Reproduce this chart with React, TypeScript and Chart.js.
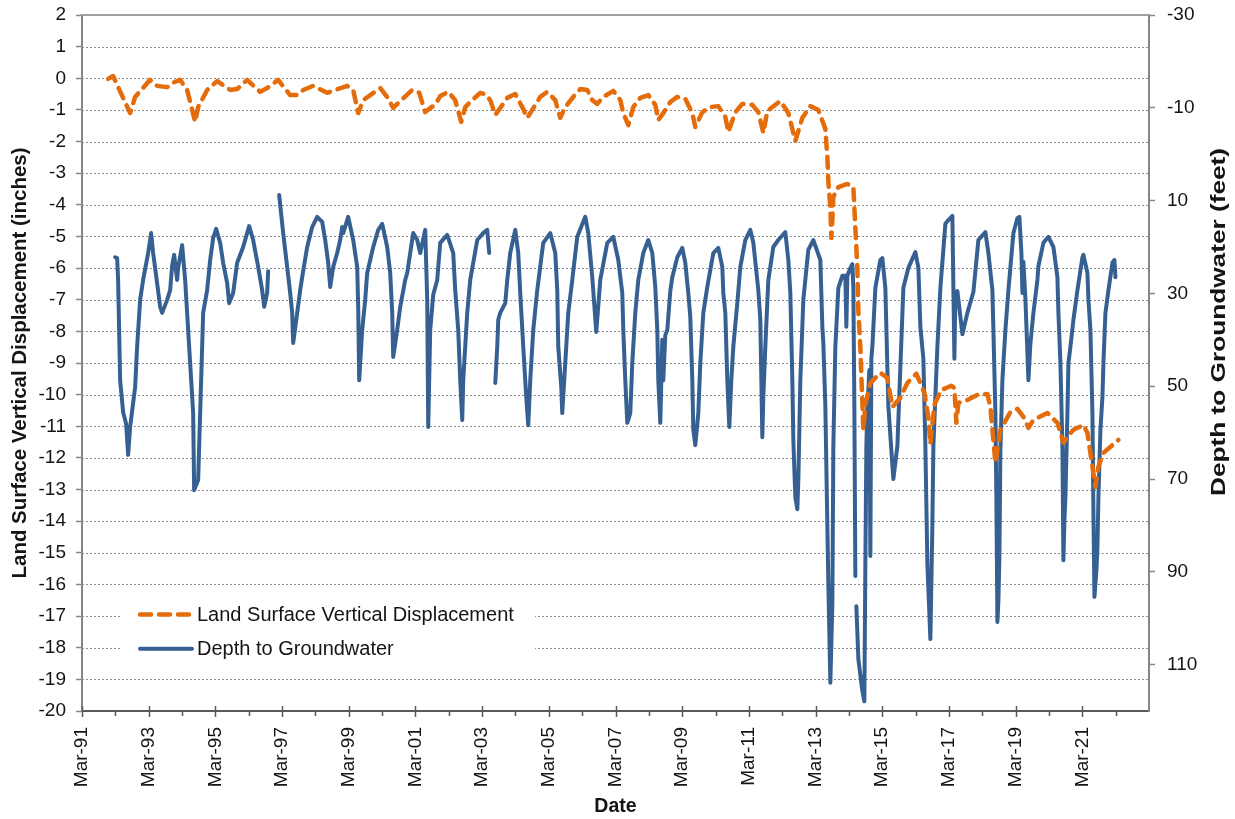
import { useEffect, useRef } from 'react';
import { Chart, registerables } from 'chart.js';

Chart.register(...registerables);

// Land surface vertical displacement (inches) : [decimal year, value]
const displacement: [number, number][] = [
  [1991.95, -0.02], [1992.10, 0.07], [1992.61, -1.10], [1992.76, -0.59], [1993.21, -0.05], [1993.42, -0.24],
  [1993.72, -0.28], [1993.87, -0.15], [1994.11, -0.05], [1994.32, -0.37], [1994.56, -1.38], [1994.65, -0.91],
  [1994.92, -0.37], [1995.22, -0.09], [1995.61, -0.37], [1995.82, -0.34], [1996.12, -0.05], [1996.51, -0.43],
  [1996.72, -0.31], [1997.05, -0.05], [1997.41, -0.53], [1997.62, -0.53], [1997.80, -0.37], [1998.10, -0.24],
  [1998.52, -0.46], [1999.12, -0.24], [1999.30, -0.37], [1999.45, -1.10], [1999.60, -0.69], [2000.11, -0.31],
  [2000.32, -0.59], [2000.50, -0.94], [2000.68, -0.75], [2001.07, -0.37], [2001.28, -0.46], [2001.46, -1.07],
  [2001.61, -0.94], [2001.76, -0.84], [2001.91, -0.56], [2002.15, -0.43], [2002.36, -0.69], [2002.54, -1.38],
  [2002.66, -0.91], [2002.87, -0.69], [2003.11, -0.46], [2003.26, -0.50], [2003.41, -0.69], [2003.56, -1.16],
  [2003.71, -0.94], [2003.92, -0.62], [2004.16, -0.50], [2004.37, -0.91], [2004.52, -1.25], [2004.67, -1.00],
  [2004.91, -0.59], [2005.12, -0.43], [2005.36, -0.69], [2005.51, -1.25], [2005.66, -0.91], [2005.90, -0.59],
  [2006.11, -0.34], [2006.32, -0.37], [2006.47, -0.69], [2006.62, -0.81], [2006.80, -0.59], [2007.10, -0.40],
  [2007.31, -0.69], [2007.40, -1.10], [2007.55, -1.48], [2007.70, -0.91], [2007.91, -0.62], [2008.15, -0.53],
  [2008.36, -0.84], [2008.45, -1.32], [2008.60, -1.10], [2008.81, -0.75], [2009.02, -0.59], [2009.26, -0.65],
  [2009.47, -1.10], [2009.56, -1.54], [2009.77, -1.07], [2010.01, -0.91], [2010.25, -0.88], [2010.46, -1.22],
  [2010.55, -1.70], [2010.76, -1.07], [2010.97, -0.81], [2011.27, -0.84], [2011.45, -1.07], [2011.60, -1.73],
  [2011.72, -1.03], [2012.11, -0.72], [2012.35, -1.10], [2012.56, -1.98], [2012.77, -1.25], [2013.01, -0.88],
  [2013.25, -1.00], [2013.46, -1.60], [2013.52, -2.49], [2013.55, -3.25], [2013.61, -4.10], [2013.64, -5.05],
  [2013.67, -4.48], [2013.70, -3.75], [2013.85, -3.44], [2014.12, -3.34], [2014.30, -3.44], [2014.36, -4.73],
  [2014.42, -6.00], [2014.45, -7.35], [2014.51, -8.49], [2014.54, -9.38], [2014.60, -11.11], [2014.66, -10.32],
  [2014.81, -9.63], [2015.11, -9.31], [2015.32, -9.47], [2015.47, -10.39], [2015.71, -10.10], [2015.92, -9.63],
  [2016.19, -9.34], [2016.43, -9.94], [2016.55, -10.73], [2016.61, -11.56], [2016.73, -10.32], [2016.94, -9.85],
  [2017.24, -9.72], [2017.33, -9.79], [2017.39, -10.89], [2017.45, -10.26], [2017.72, -10.17], [2018.02, -10.01],
  [2018.32, -9.98], [2018.41, -10.39], [2018.56, -12.16], [2018.71, -11.11], [2019.01, -10.55], [2019.22, -10.45],
  [2019.40, -10.70], [2019.55, -11.05], [2019.70, -10.80], [2020.12, -10.58], [2020.42, -10.89], [2020.60, -11.52],
  [2020.72, -11.34], [2020.90, -11.11], [2021.20, -10.96], [2021.32, -11.21], [2021.47, -12.28], [2021.56, -12.92],
  [2021.65, -12.28], [2021.80, -11.84], [2022.25, -11.43],
];

// Depth to groundwater (feet) : [decimal year, value]; null = gap in record
const groundwater: [number, number | null][] = [
  [1992.16, 22.2], [1992.22, 22.4], [1992.25, 27.1], [1992.31, 48.7], [1992.40, 55.6], [1992.49, 58.1],
  [1992.55, 64.8], [1992.61, 58.8], [1992.70, 53.6], [1992.76, 50.2], [1992.82, 41.5], [1992.91, 31.4],
  [1993.00, 27.1], [1993.15, 21.3], [1993.24, 17.0], [1993.30, 21.3], [1993.42, 27.8], [1993.51, 32.9],
  [1993.57, 34.2], [1993.72, 31.4], [1993.81, 29.3], [1993.87, 24.0], [1993.93, 21.7], [1994.02, 27.1],
  [1994.05, 24.5], [1994.17, 19.6], [1994.26, 27.1], [1994.41, 45.0], [1994.50, 55.8], [1994.53, 72.4],
  [1994.65, 70.2], [1994.71, 55.8], [1994.77, 41.5], [1994.80, 34.2], [1994.92, 29.3], [1995.01, 22.8],
  [1995.10, 18.1], [1995.19, 16.1], [1995.31, 19.1], [1995.40, 23.4], [1995.52, 27.8], [1995.58, 32.1],
  [1995.70, 29.9], [1995.82, 23.4], [1996.00, 20.0], [1996.18, 15.5], [1996.30, 18.5], [1996.45, 24.3],
  [1996.57, 29.3], [1996.63, 32.9], [1996.72, 29.9], [1996.75, 25.2], [1996.90, null],
  [1997.08, 8.8], [1997.20, 17.0], [1997.32, 24.3], [1997.41, 29.9], [1997.47, 34.2], [1997.50, 40.7],
  [1997.62, 34.2], [1997.71, 29.3], [1997.77, 26.5], [1997.92, 20.0], [1998.07, 15.7], [1998.22, 13.5],
  [1998.37, 14.6], [1998.46, 18.5], [1998.55, 23.4], [1998.61, 28.6], [1998.70, 24.3], [1998.82, 21.3],
  [1998.91, 18.5], [1998.97, 15.7], [1999.00, 17.0], [1999.15, 13.5], [1999.30, 18.5], [1999.42, 24.3],
  [1999.45, 32.9], [1999.48, 48.7], [1999.57, 37.9], [1999.66, 31.4], [1999.72, 25.6], [1999.90, 20.0],
  [2000.05, 16.3], [2000.17, 15.0], [2000.32, 20.0], [2000.41, 25.6], [2000.47, 34.2], [2000.50, 43.7],
  [2000.62, 37.9], [2000.71, 32.9], [2000.86, 27.1], [2000.92, 25.6], [2001.10, 17.0], [2001.22, 18.5],
  [2001.31, 21.3], [2001.46, 16.3], [2001.52, 31.4], [2001.55, 58.8], [2001.61, 37.9], [2001.70, 30.3],
  [2001.82, 27.1], [2001.91, 19.1], [2002.12, 17.4], [2002.30, 21.3], [2002.36, 29.3], [2002.45, 37.9],
  [2002.51, 48.7], [2002.57, 57.3], [2002.60, 48.7], [2002.72, 34.2], [2002.81, 27.1], [2003.02, 18.5],
  [2003.20, 17.0], [2003.32, 16.3], [2003.38, 21.3], [2003.45, null],
  [2003.56, 49.3], [2003.62, 41.5], [2003.65, 35.7], [2003.71, 34.2], [2003.86, 32.1], [2003.92, 27.1],
  [2004.01, 21.3], [2004.16, 16.3], [2004.25, 21.3], [2004.31, 29.9], [2004.40, 41.5], [2004.49, 52.3],
  [2004.55, 58.4], [2004.61, 48.7], [2004.70, 37.9], [2004.82, 29.3], [2005.00, 19.1], [2005.21, 17.0],
  [2005.36, 21.3], [2005.42, 29.3], [2005.45, 41.5], [2005.54, 50.2], [2005.57, 55.8], [2005.66, 45.0],
  [2005.75, 34.2], [2005.87, 27.1], [2006.02, 17.8], [2006.26, 13.5], [2006.35, 17.0], [2006.47, 26.5],
  [2006.59, 38.3], [2006.71, 27.1], [2006.92, 19.1], [2007.10, 17.8], [2007.25, 22.8], [2007.37, 29.9],
  [2007.40, 37.9], [2007.46, 48.7], [2007.52, 57.9], [2007.61, 55.8], [2007.67, 45.0], [2007.76, 34.2],
  [2007.85, 27.1], [2008.00, 21.3], [2008.15, 18.5], [2008.27, 21.3], [2008.36, 28.6], [2008.42, 37.9],
  [2008.45, 48.7], [2008.51, 57.9], [2008.57, 40.0], [2008.60, 48.7], [2008.66, 39.0], [2008.72, 37.9],
  [2008.81, 29.5], [2008.87, 26.5], [2009.02, 22.2], [2009.17, 20.2], [2009.26, 23.4], [2009.35, 29.9],
  [2009.41, 35.1], [2009.47, 48.7], [2009.50, 59.4], [2009.56, 62.7], [2009.65, 55.8], [2009.71, 45.0],
  [2009.80, 34.2], [2009.92, 28.6], [2010.10, 21.3], [2010.25, 20.2], [2010.37, 24.3], [2010.40, 29.9],
  [2010.46, 34.2], [2010.52, 48.7], [2010.58, 58.8], [2010.64, 48.7], [2010.70, 41.5], [2010.82, 32.1],
  [2010.91, 24.3], [2011.06, 18.5], [2011.21, 16.3], [2011.30, 19.1], [2011.45, 29.3], [2011.51, 35.7],
  [2011.57, 61.0], [2011.60, 52.3], [2011.66, 41.5], [2011.75, 27.1], [2011.90, 20.0], [2012.05, 18.5],
  [2012.26, 16.8], [2012.35, 22.8], [2012.41, 29.9], [2012.47, 48.7], [2012.50, 61.6], [2012.56, 73.9],
  [2012.62, 76.5], [2012.65, 70.2], [2012.71, 48.7], [2012.80, 31.4], [2012.95, 20.6], [2013.10, 18.5],
  [2013.31, 22.8], [2013.37, 37.2], [2013.40, 40.7], [2013.46, 54.3], [2013.52, 79.9], [2013.55, 92.6],
  [2013.61, 113.9], [2013.67, 96.9], [2013.70, 62.9], [2013.76, 41.5], [2013.85, 28.8], [2013.97, 26.2],
  [2014.06, 26.2], [2014.09, 37.2], [2014.12, 26.2], [2014.21, 24.5], [2014.27, 23.7], [2014.30, 28.8],
  [2014.33, 54.3], [2014.36, 90.9], [2014.37, null],
  [2014.39, 97.4], [2014.45, 108.8], [2014.57, 115.7], [2014.63, 117.9], [2014.66, 88.3], [2014.69, 62.9],
  [2014.72, 54.3], [2014.75, 50.8], [2014.78, 46.5], [2014.81, 86.6], [2014.84, 44.0], [2014.87, 41.5],
  [2014.96, 28.8], [2015.11, 22.8], [2015.17, 22.4], [2015.26, 28.8], [2015.35, 54.3], [2015.47, 67.0],
  [2015.50, 70.0], [2015.62, 62.9], [2015.71, 45.9], [2015.80, 28.8], [2015.95, 24.5], [2016.16, 21.1],
  [2016.25, 24.5], [2016.31, 37.2], [2016.40, 44.1], [2016.46, 62.9], [2016.52, 88.3], [2016.61, 104.5],
  [2016.67, 79.9], [2016.70, 62.9], [2016.82, 41.5], [2016.91, 28.8], [2017.06, 15.0], [2017.15, 14.2],
  [2017.27, 13.3], [2017.30, 28.8], [2017.33, 44.1], [2017.36, 30.6], [2017.42, 29.5], [2017.57, 38.8],
  [2017.72, 34.2], [2017.90, 29.7], [2018.05, 18.5], [2018.26, 16.8], [2018.35, 21.3], [2018.47, 29.3],
  [2018.50, 37.9], [2018.56, 55.8], [2018.59, 74.5], [2018.62, 100.8], [2018.65, 96.1], [2018.68, 86.8],
  [2018.71, 63.8], [2018.77, 48.7], [2018.86, 37.9], [2018.95, 29.3], [2019.10, 17.0], [2019.22, 13.8],
  [2019.28, 13.5], [2019.34, 21.3], [2019.37, 29.9], [2019.40, 23.2], [2019.46, 31.2], [2019.55, 48.7],
  [2019.61, 40.8], [2019.70, 34.2], [2019.82, 27.1], [2019.85, 24.1], [2020.00, 19.1], [2020.15, 17.8],
  [2020.30, 20.0], [2020.42, 26.5], [2020.45, 34.2], [2020.51, 45.0], [2020.57, 63.1], [2020.60, 87.5],
  [2020.63, 78.8], [2020.66, 73.9], [2020.72, 55.8], [2020.75, 45.0], [2020.81, 41.5], [2020.90, 35.7],
  [2021.02, 29.3], [2021.17, 22.2], [2021.20, 21.7], [2021.32, 25.6], [2021.35, 31.4], [2021.41, 37.9],
  [2021.47, 55.8], [2021.50, 77.3], [2021.53, 95.4], [2021.59, 89.6], [2021.62, 84.7], [2021.65, 73.9],
  [2021.71, 59.4], [2021.77, 52.3], [2021.80, 45.0], [2021.86, 34.2], [2021.95, 29.3], [2022.07, 23.4],
  [2022.13, 22.8], [2022.16, 26.5],
];

const xTickLabels = [
  'Mar-91', 'Mar-93', 'Mar-95', 'Mar-97', 'Mar-99', 'Mar-01', 'Mar-03', 'Mar-05',
  'Mar-07', 'Mar-09', 'Mar-11', 'Mar-13', 'Mar-15', 'Mar-17', 'Mar-19', 'Mar-21',
];
const firstTickYear = 1991;
const tickCount = 32; // Mar-91 .. Mar-22
const xMin = 1991 + 2 / 12;
const xMax = 2023 + 2 / 12;
const rightTicks = [-30, -10, 10, 30, 50, 70, 90, 110];

const ORANGE = '#E46C0A';
const BLUE = '#376092';
const FONT = "'Liberation Sans', Arial, sans-serif";
const TEXT = '#141414';

function stretchedText(ctx: CanvasRenderingContext2D, text: string, cx: number, cy: number, len: number, rot: boolean) {
  ctx.save();
  ctx.translate(cx, cy);
  if (rot) ctx.rotate(-Math.PI / 2);
  const w = ctx.measureText(text).width;
  ctx.scale(len / w, 1);
  ctx.textAlign = 'center';
  ctx.textBaseline = 'middle';
  ctx.fillText(text, 0, 0);
  ctx.restore();
}

const decorPlugin = {
  id: 'decor',
  beforeDatasetsDraw(chart: any) {
    const { ctx, chartArea: a, scales } = chart;
    const y = scales.y;
    ctx.save();
    ctx.strokeStyle = '#8f8f8f';
    ctx.lineWidth = 1;
    ctx.setLineDash([2, 2]);
    y.ticks.forEach((t: any) => {
      if (t.value === 2 || t.value === -20) return;
      const py = Math.round(y.getPixelForValue(t.value)) + 0.5;
      ctx.beginPath();
      ctx.moveTo(a.left, py);
      ctx.lineTo(a.right, py);
      ctx.stroke();
    });
    ctx.setLineDash([]);
    // top frame line
    ctx.strokeStyle = '#a0a0a0';
    ctx.lineWidth = 2;
    ctx.beginPath();
    ctx.moveTo(a.left, a.top);
    ctx.lineTo(a.right, a.top);
    ctx.stroke();
    // legend background
    ctx.fillStyle = '#ffffff';
    ctx.fillRect(a.left + 38, y.getPixelForValue(-16.35), 415, y.getPixelForValue(-18.7) - y.getPixelForValue(-16.35));
    ctx.restore();
  },
  afterDraw(chart: any) {
    const { ctx, chartArea: a, scales } = chart;
    const x = scales.x;
    const y = scales.y;
    ctx.save();
    // x tick marks
    ctx.strokeStyle = '#595959';
    ctx.lineWidth = 1.5;
    for (let i = 0; i < tickCount; i++) {
      const px = Math.round(x.getPixelForValue(firstTickYear + i + 2 / 12)) + 0.5;
      ctx.beginPath();
      if (i % 2 === 0) {
        ctx.moveTo(px, a.bottom - 5);
        ctx.lineTo(px, a.bottom + 6);
      } else {
        ctx.moveTo(px, a.bottom);
        ctx.lineTo(px, a.bottom + 5);
      }
      ctx.stroke();
    }
    // legend
    const ds = chart.data.datasets;
    const lx = a.left + 56;
    const items = [
      { d: ds[0], yy: y.getPixelForValue(-16.95) },
      { d: ds[1], yy: y.getPixelForValue(-18.03) },
    ];
    items.forEach(({ d, yy }) => {
      ctx.save();
      ctx.strokeStyle = d.borderColor;
      ctx.lineWidth = d.borderWidth;
      ctx.lineCap = d.borderCapStyle || 'butt';
      ctx.setLineDash(d.borderDash || []);
      ctx.beginPath();
      ctx.moveTo(lx + 2, yy);
      ctx.lineTo(lx + 54, yy);
      ctx.stroke();
      ctx.restore();
      ctx.fillStyle = TEXT;
      ctx.font = `20px ${FONT}`;
      ctx.textAlign = 'left';
      ctx.textBaseline = 'middle';
      ctx.fillText(d.label, lx + 59, yy + 1);
    });
    // axis titles
    ctx.fillStyle = TEXT;
    ctx.font = `bold 20px ${FONT}`;
    stretchedText(ctx, 'Land Surface Vertical Displacement (inches)', 20, (a.top + a.bottom) / 2, 431, true);
    stretchedText(ctx, 'Depth to Groundwater (feet)', 1219, 322, 348, true);
    ctx.font = `bold 19.5px ${FONT}`;
    ctx.textAlign = 'center';
    ctx.textBaseline = 'middle';
    ctx.fillText('Date', (a.left + a.right) / 2, 807);
    ctx.restore();
  },
};

export default function App() {
  const ref = useRef<HTMLCanvasElement | null>(null);
  useEffect(() => {
    if (!ref.current) return;
    const tickFont = { family: FONT, size: 19 };
    const chart = new Chart(ref.current, {
      type: 'line',
      data: {
        datasets: [
          {
            label: 'Land Surface Vertical Displacement',
            data: displacement.map(([x, v]) => ({ x, y: v })),
            yAxisID: 'y',
            borderColor: ORANGE,
            backgroundColor: ORANGE,
            borderWidth: 4.5,
            borderDash: [11, 8],
            borderCapStyle: 'round',
            borderJoinStyle: 'round',
            pointRadius: 0,
            tension: 0,
            fill: false,
          },
          {
            label: 'Depth to Groundwater',
            data: groundwater.map(([x, v]) => ({ x, y: v })),
            yAxisID: 'y1',
            borderColor: BLUE,
            backgroundColor: BLUE,
            borderWidth: 4,
            borderCapStyle: 'round',
            borderJoinStyle: 'round',
            pointRadius: 0,
            tension: 0,
            spanGaps: false,
            fill: false,
          },
        ],
      } as any,
      options: {
        animation: false,
        responsive: false,
        layout: { padding: { top: 15, left: 0, right: 0, bottom: 0 } },
        plugins: { legend: { display: false }, tooltip: { enabled: false } },
        scales: {
          x: {
            type: 'linear',
            min: xMin,
            max: xMax,
            afterBuildTicks: (s: any) => {
              const t = [];
              for (let i = 0; i < tickCount; i++) t.push({ value: firstTickYear + i + 2 / 12 });
              s.ticks = t;
            },
            afterFit: (s: any) => { s.height = 108; s.paddingLeft = 0; s.paddingRight = 0; },
            ticks: {
              autoSkip: false,
              minRotation: 90,
              maxRotation: 90,
              padding: 16,
              color: TEXT,
              font: tickFont,
              callback: (_v: any, i: number) => (i % 2 === 0 ? xTickLabels[i / 2] ?? '' : ''),
            },
            grid: { display: false, drawTicks: false, tickLength: 0 },
            border: { display: true, color: '#595959', width: 2 },
          },
          y: {
            type: 'linear',
            position: 'left',
            min: -20,
            max: 2,
            afterFit: (s: any) => { s.width = 82; s.paddingTop = 0; s.paddingBottom = 0; },
            ticks: { stepSize: 1, padding: 10, color: TEXT, font: tickFont },
            grid: { drawOnChartArea: false, drawTicks: true, tickLength: 6, tickColor: '#868686', tickWidth: 1.5 },
            border: { display: true, color: '#868686', width: 2 },
          },
          y1: {
            type: 'linear',
            position: 'right',
            reverse: true,
            min: -30,
            max: 120,
            afterFit: (s: any) => { s.width = 86; s.paddingTop = 0; s.paddingBottom = 0; },
            afterBuildTicks: (s: any) => { s.ticks = rightTicks.map((v) => ({ value: v })); },
            ticks: { padding: 12, color: TEXT, font: tickFont },
            grid: { drawOnChartArea: false, drawTicks: true, tickLength: 6, tickColor: '#868686', tickWidth: 1.5 },
            border: { display: true, color: '#868686', width: 2 },
          },
        },
      } as any,
      plugins: [decorPlugin],
    });
    return () => chart.destroy();
  }, []);
  return (
    <div style={{ position: 'absolute', left: 0, top: 0, width: 1235, height: 819, background: '#fff' }}>
      <canvas ref={ref} width={1235} height={819} style={{ display: 'block' }} />
    </div>
  );
}
